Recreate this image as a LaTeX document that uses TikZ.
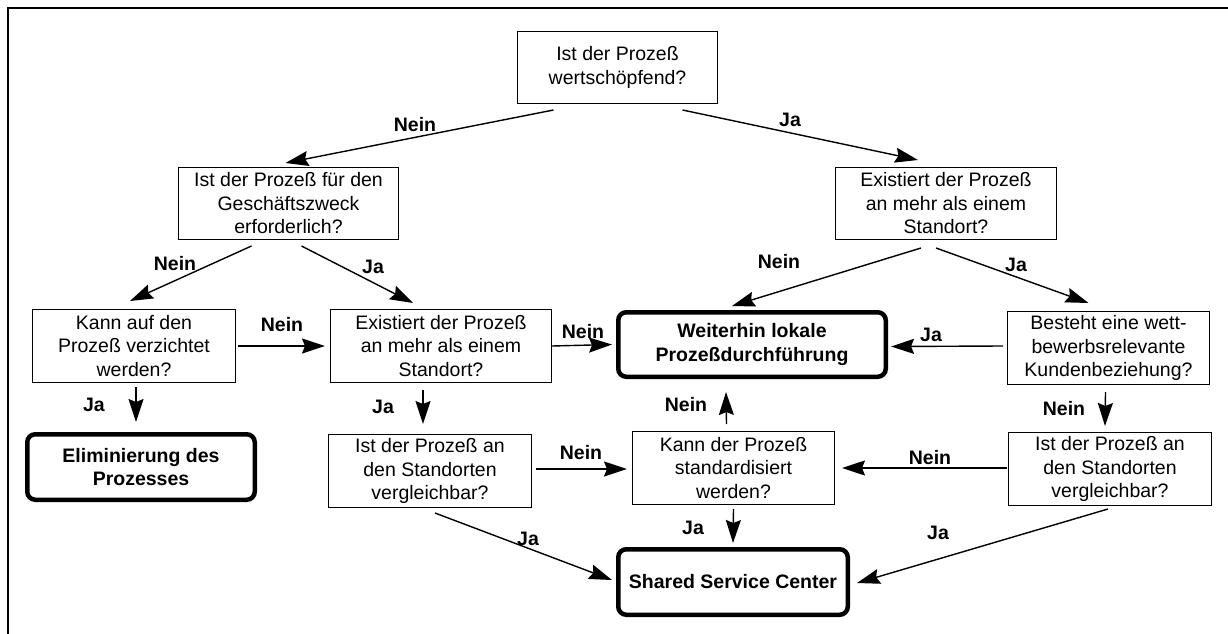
\documentclass[tikz,border=0pt]{standalone}
\usepackage{fontspec}
\setmainfont{Liberation Sans}
\usetikzlibrary{
  arrows.meta,
  positioning
}

\begin{document}
\begin{tikzpicture}[x=1pt,y=-1pt,
      frage/.style={
         rectangle,
         draw=black,
         line width=1.3pt,
         inner sep=0pt,
         minimum width=202.7pt,
         minimum height=72.7pt,
         align=center,
         font=\fontsize{19.5}{23.5}\selectfont
      },
      ergebnis/.style={
         rectangle,
         rounded corners=8pt,
         draw=black,
         line width=4.5pt,
         inner sep=0pt,
         minimum height=65.5pt,
         align=center,
         font=\fontsize{19.5}{23.5}\selectfont\bfseries
      },
      antwort/.style={inner sep=0pt,font=\fontsize{19.5}{23.5}\selectfont\bfseries},
      >={Stealth[length=23pt,width=15pt,inset=3pt]},
      tip/.style={->,line width=1.4pt},
    ]
    \useasboundingbox (0,0) rectangle (1228,634);
    % Rahmen (nur oben und links)
    \draw[line width=2.5pt] (8,634) -- (8,8) -- (1228,8);

    % Fragen
    \node (wert)      [frage, minimum width=199.7pt, minimum height=71.7pt] at (617.5,67.5) {Ist der Prozeß\\wertschöpfend?};
    \node (zweck)     [frage, minimum width=219.7pt, minimum height=71.7pt] at (288.5,203.5) {Ist der Prozeß für den\\Geschäftszweck\\erforderlich?};
    \node (standort)  [frage, minimum width=220.7pt, minimum height=71.7pt] at (946,203.5) {Existiert der Prozeß\\an mehr als einem\\Standort?};
    \node (verzicht)  [frage] at (134,346) {Kann auf den\\Prozeß verzichtet\\werden?};
    \node (standortb) [frage, minimum width=220.7pt] at (441,346) {Existiert der Prozeß\\an mehr als einem\\Standort?};
    \node (kunde)     [frage, minimum width=201.7pt] at (1108.5,348) {Besteht eine wett-\\bewerbsrelevante\\Kundenbeziehung?};
    \node (vergla)    [frage] at (430,471) {Ist der Prozeß an\\den Standorten\\vergleichbar?};
    \node (standard)  [frage, minimum width=201.7pt] at (733.5,468) {Kann der Prozeß\\standardisiert\\werden?};
    \node (verglb)    [frage] at (1110,469) {Ist der Prozeß an\\den Standorten\\vergleichbar?};

    % Ergebnisse
    \node (lokal) [ergebnis, minimum width=267.5pt, minimum height=64.5pt] at (752,344.5) {Weiterhin lokale\\Prozeßdurchführung};
    \node (elim)  [ergebnis, minimum width=227.5pt] at (141,467) {Eliminierung des\\Prozesses};
    \node (ssc)   [ergebnis, minimum width=229.5pt] at (733,582) {Shared Service Center};

    % Verbindungen
    \draw[tip] ([shift={(-64,6)}]wert.south) -- ([shift={(-3,-4)}]zweck.north);
    \draw[tip] ([shift={(65,6)}]wert.south) -- ([shift={(-28,-7)}]standort.north);
    \draw[tip] ([shift={(-37,6)}]zweck.south) -- ([shift={(-4,-8)}]verzicht.north);
    \draw[tip] ([shift={(13,6)}]zweck.south) -- ([shift={(-28,-6)}]standortb.north);
    \draw[tip] ([shift={(-25,8)}]standort.south) -- ([shift={(-20,-4)}]lokal.north);
    \draw[tip] ([shift={(-10,8)}]standort.south) -- ([shift={(-20,-8)}]kunde.north);
    \draw[tip] ([shift={(2,4)}]verzicht.south) -- ([shift={(-5,-10)}]elim.north);
    \draw[tip] ([xshift=2pt]verzicht.east) -- ([xshift=-5pt]standortb.west);
    \draw[tip] (standortb.east) -- ([xshift=-4pt]lokal.west);
    \draw[tip] ([shift={(-18,7)}]standortb.south) -- ([shift={(-7,-10)}]vergla.north);
    \draw[tip] ([shift={(4,-2)}]vergla.east) -- ([shift={(-5,1)}]standard.west);
    \draw[tip] ([shift={(5,5)}]vergla.south) -- ([shift={(-4,-2)}]ssc.west);
    \draw[tip] ([shift={(-7,-7)}]standard.north) -- ([shift={(-26,13)}]lokal.south);
    \draw[tip] ([yshift=-4pt]standard.south) -- ([yshift=4pt]ssc.north);
    \draw[tip] ([shift={(-4,-2)}]kunde.west) -- ([shift={(3,2)}]lokal.east);
    \draw[tip] ([shift={(-3,7)}]kunde.south) -- ([shift={(-5,-6)}]verglb.north);
    \draw[tip] ([shift={(-1,-1)}]verglb.west) -- ([xshift=7pt]standard.east);
    \draw[tip] ([shift={(-2,3)}]verglb.south) -- ([shift={(7,1)}]ssc.east);

    % Beschriftungen
    \node (l1)  [antwort] at (415,125)  {Nein};
    \node (l2)  [antwort] at (790,120)  {Ja};
    \node (l3)  [antwort] at (175,264)  {Nein};
    \node (l4)  [antwort] at (373,267)  {Ja};
    \node (l5)  [antwort] at (779,262)  {Nein};
    \node (l6)  [antwort] at (1016,265) {Ja};
    \node (l7)  [antwort] at (282,325)  {Nein};
    \node (l8)  [antwort] at (583,332)  {Nein};
    \node (l9)  [antwort] at (94,405)   {Ja};
    \node (l10) [antwort] at (383,407)  {Ja};
    \node (l11) [antwort] at (931,335)  {Ja};
    \node (l12) [antwort] at (1064,409) {Nein};
    \node (l13) [antwort] at (686,405)  {Nein};
    \node (l14) [antwort] at (581,453)  {Nein};
    \node (l15) [antwort] at (930,458)  {Nein};
    \node (l16) [antwort] at (693,528)  {Ja};
    \node (l17) [antwort] at (528,539)  {Ja};
    \node (l18) [antwort] at (938,533)  {Ja};
\end{tikzpicture}
\end{document}
